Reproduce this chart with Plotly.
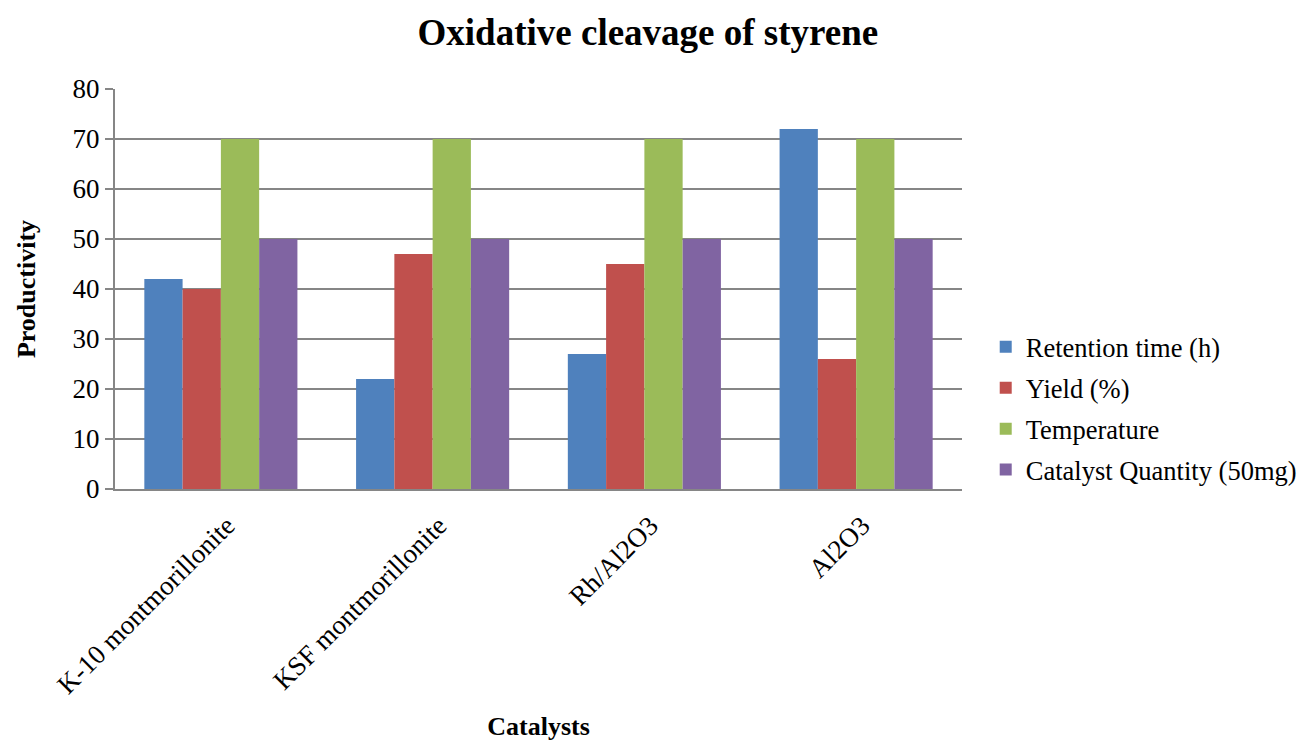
import plotly.graph_objects as go

categories = ["K-10 montmorillonite", "KSF montmorillonite", "Rh/Al2O3", "Al2O3"]
retention_time = [42, 22, 27, 72]
yield_pct = [40, 47, 45, 26]
temperature = [70, 70, 70, 70]
catalyst_qty = [50, 50, 50, 50]

series_names = ["Retention time (h)", "Yield (%)", "Temperature", "Catalyst Quantity (50mg)"]
series_values = [retention_time, yield_pct, temperature, catalyst_qty]
colors = ["#4F81BD", "#C0504D", "#9BBB59", "#8064A2"]

FONT = "Liberation Serif, Times New Roman, serif"

fig = go.Figure()
for i, (name, vals, col) in enumerate(zip(series_names, series_values, colors)):
    fig.add_trace(go.Bar(
        x=categories, y=vals, name=name,
        marker=dict(color=col, line=dict(width=0)),
        legendgroup=f"g{i}",
    ))

fig.update_layout(
    width=1301, height=741,
    barmode="group", bargap=0.277, bargroupgap=0,
    plot_bgcolor="white", paper_bgcolor="white",
    margin=dict(l=115, r=339, t=89, b=252, autoexpand=False),
    font=dict(family=FONT, size=26, color="black"),
    title=dict(text="<b>Oxidative cleavage of styrene</b>", x=0.498, xanchor="center",
               y=0.957, yanchor="middle", font=dict(family=FONT, size=37, color="black")),
    legend=dict(x=1.028, xanchor="left", y=0.415, yanchor="top",
                font=dict(family=FONT, size=26.5, color="black"),
                traceorder="grouped", tracegroupgap=3.5, itemwidth=30),
    showlegend=True,
)
fig.update_yaxes(
    range=[0, 80], dtick=10, showgrid=True, gridcolor="#868686", gridwidth=2,
    showline=True, linecolor="#868686", linewidth=2,
    ticks="outside", ticklen=8, tickcolor="#868686", tickwidth=2,
    tickfont=dict(family=FONT, size=27), zeroline=False,
    title=dict(text="<b>Productivity</b>", font=dict(family=FONT, size=26), standoff=29),
)
fig.update_xaxes(
    showline=True, linecolor="#868686", linewidth=2, tickangle=-45,
    tickfont=dict(family=FONT, size=27), ticks="",
    ticklabelshift=6, ticklabelstandoff=8,
    title=dict(text="<b>Catalysts</b>", font=dict(family=FONT, size=26), standoff=20),
)

fig.write_html("out.html", post_script="document.body.style.margin='0';",
               config={"displayModeBar": False})
